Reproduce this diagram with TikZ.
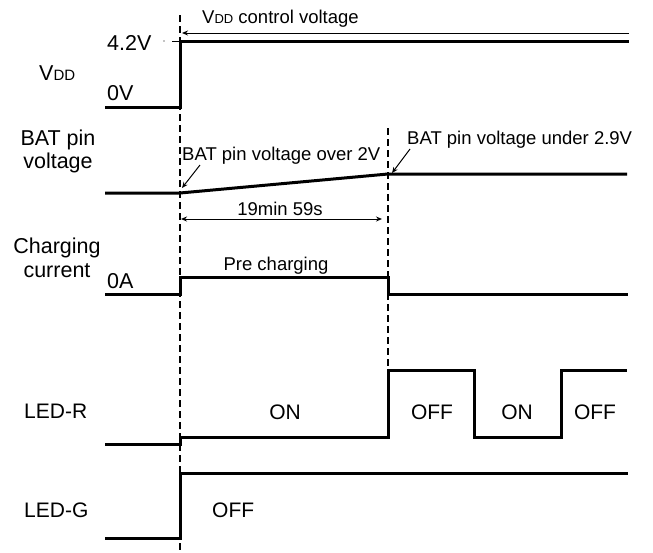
\documentclass[tikz,border=0pt]{standalone}
\usepackage{fontspec}
\setmainfont{Liberation Sans}
\usetikzlibrary{arrows.meta}
\tikzset{
  sig/.style={line width=3pt, line join=miter},
  guide/.style={line width=1.1pt, dash pattern=on 7pt off 4pt},
  ann/.style={inner sep=0pt, font=\fontsize{18.5}{22}\selectfont},
  axl/.style={inner sep=0pt, font=\fontsize{21.5}{26}\selectfont},
  stl/.style={inner sep=0pt, font=\fontsize{21}{25}\selectfont},
  pointer/.style={line width=1pt, -{Stealth[length=6pt,width=5pt]}},
  span/.style={line width=1pt, {Stealth[length=6pt,width=5pt]}-{Stealth[length=6pt,width=5pt]}}
}
\begin{document}
\begin{tikzpicture}[x=1pt,y=-1pt]
\useasboundingbox (0,0) rectangle (653,552);
\fill[white] (0,0) rectangle (653,552);

% guide lines
\coordinate (g1t) at (180,15);
\coordinate (g1b) at (180,552);
\coordinate (g2t) at (388,128);
\coordinate (g2b) at (388,368);
\draw[guide] (g1t) -- (g1b);
\draw[guide] (g2t) -- (g2b);

% VDD
\draw[sig] (105,107) -- (180,107) -- (180,41) -- (629,41);
\coordinate (vddR) at (629,33);
\coordinate (vddL) at (182,33);
\draw[pointer] (vddR) -- (vddL);
\fill (164,41) circle (0.7pt);
\draw[line width=0.9pt] (172,41) -- (179,41);

% BAT
\draw[sig] (105,193) -- (180,193) -- (388,174) -- (627,174);
\coordinate (p1s) at (200,165);
\coordinate (p1e) at (182,188);
\draw[pointer] (p1s) -- (p1e);
\coordinate (p2s) at (410,149);
\coordinate (p2e) at (392,173);
\draw[pointer] (p2s) -- (p2e);
\coordinate (spL) at (181,219);
\coordinate (spR) at (382,219);
\draw[span] (spL) -- (spR);

% Charging current
\draw[sig] (105,294) -- (180,294) -- (180,277) -- (388,277) -- (388,294) -- (628,294);

% LED-R
\draw[sig] (105,444) -- (180,444) -- (180,437) -- (388,437) -- (388,370) -- (474,370) -- (474,437) -- (561,437) -- (561,370) -- (627,370);

% LED-G
\draw[sig] (105,538) -- (180,538) -- (180,473) -- (628,473);

% texts
\node[ann, anchor=base west] (vddctl) at (202,23) {V{\fontsize{13}{13}\selectfont DD} control voltage};
\node[axl, anchor=base west] (v42) at (107,50) {4.2V};
\node[axl, anchor=base west] (vdd) at (39,80) {V{\fontsize{15}{15}\selectfont DD}};
\node[axl, anchor=base west] (v0) at (107,100) {0V};
\node[axl, anchor=base] (bat1) at (58,145) {BAT pin};
\node[axl, anchor=base] (bat2) at (58,168) {voltage};
\node[axl, anchor=base] (chg1) at (57,253) {Charging};
\node[axl, anchor=base] (chg2) at (57,277) {current};
\node[axl, anchor=base west] (a0) at (107,288) {0A};
\node[ann, anchor=base west] (over) at (182,160) {BAT pin voltage over 2V};
\node[ann, anchor=base west] (under) at (407,144) {BAT pin voltage under 2.9V};
\node[ann, anchor=base] (dur) at (280,215) {19min 59s};
\node[ann, anchor=base] (pre) at (276,270) {Pre charging};
\node[stl, anchor=base west] (ledr) at (24,418) {LED-R};
\node[stl, anchor=base] (on1) at (285,419) {ON};
\node[stl, anchor=base] (off1) at (432,419) {OFF};
\node[stl, anchor=base] (on2) at (517,419) {ON};
\node[stl, anchor=base] (off2) at (595,419) {OFF};
\node[stl, anchor=base west] (ledg) at (24,517) {LED-G};
\node[stl, anchor=base west] (offg) at (212,517) {OFF};
\end{tikzpicture}
\end{document}
